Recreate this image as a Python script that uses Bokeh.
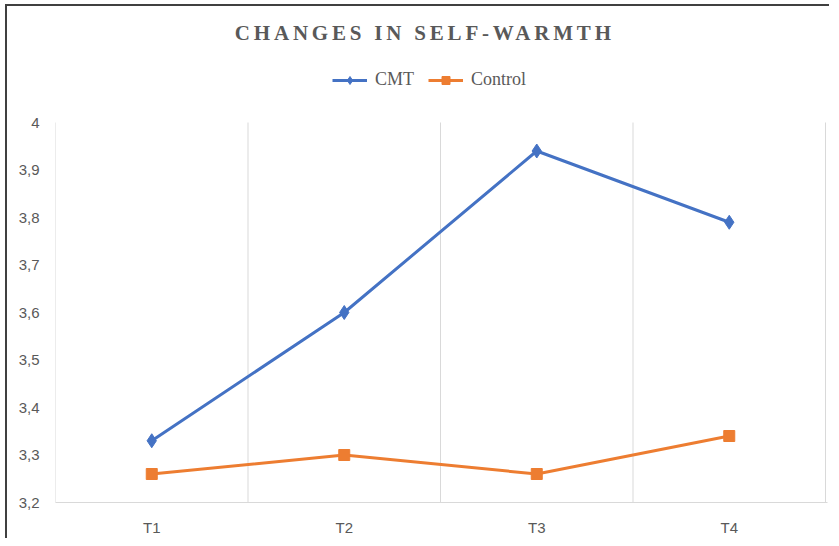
from bokeh.plotting import figure
from bokeh.layouts import column
from bokeh.models import (Range1d, FixedTicker, CustomJSTickFormatter, Legend,
                          LegendItem, Label)
from bokeh.embed import file_html
from bokeh.resources import INLINE

# ---- data ----
categories = ["T1", "T2", "T3", "T4"]
cmt = [3.33, 3.60, 3.94, 3.79]
control = [3.26, 3.30, 3.26, 3.34]
y_ticks = [3.2, 3.3, 3.4, 3.5, 3.6, 3.7, 3.8, 3.9, 4.0]
series_names = ["CMT", "Control"]
title_text = "CHANGES IN SELF-WARMTH"

n = len(categories)
xs = list(range(1, n + 1))
bounds = [i + 0.5 for i in range(0, n + 1)]

GRAY_TXT = "#595959"
GRID = "#d9d9d9"
BLUE = "#4472C4"
ORANGE = "#ED7D31"
FRAME = "2px solid #404040"

# ---- layout constants (canvas pixels) ----
W = 824
TH = 46                 # title strip height
MH = 488                # main chart height
LEFT, RIGHT = 48, 4     # borders around plot area
PLOT_W = 770            # width of the category area
BOTTOM = 36
PLOT_TOP = 72           # y of the value-axis maximum inside main canvas
frame_h = MH - BOTTOM
frame_w = W - LEFT - RIGHT
y_lo, y_hi = y_ticks[0], y_ticks[-1]
y_end = y_lo + (y_hi - y_lo) * frame_h / (frame_h - PLOT_TOP)
x_end = 0.5 + n * frame_w / PLOT_W

# ---- title strip ----
t = figure(width=W, height=TH, output_backend="svg", toolbar_location=None,
           x_range=Range1d(0, 1), y_range=Range1d(0, 1),
           x_axis_type=None, y_axis_type=None,
           min_border_left=0, min_border_right=0, min_border_top=0, min_border_bottom=0)
t.outline_line_color = None
t.grid.visible = False
t.border_fill_color = "white"
t.background_fill_color = "white"
t.styles = {"border-top": FRAME, "border-left": FRAME, "letter-spacing": "3.8px"}
t.add_layout(Label(x=327.5, y=20, x_units="screen", y_units="screen",
                   text=title_text, text_align="center", text_baseline="alphabetic",
                   text_font="Liberation Serif", text_font_style="bold",
                   text_font_size="21px", text_color=GRAY_TXT))

# ---- main chart ----
p = figure(width=W, height=MH, output_backend="svg", toolbar_location=None,
           x_range=Range1d(0.5, x_end), y_range=Range1d(y_lo, y_end),
           min_border_left=LEFT, min_border_right=RIGHT,
           min_border_top=0, min_border_bottom=BOTTOM)
p.outline_line_color = None
p.background_fill_color = "white"
p.border_fill_color = "white"
p.styles = {"border-left": FRAME}
p.xgrid.grid_line_color = None
p.ygrid.grid_line_color = None

# vertical separators between categories, spanning the value range
p.segment(x0=bounds, y0=[y_lo] * len(bounds), x1=bounds, y1=[y_hi] * len(bounds),
          line_color=GRID, line_width=1)

# x axis
p.xaxis.ticker = FixedTicker(ticks=xs)
p.xaxis.major_label_overrides = {x: c for x, c in zip(xs, categories)}
p.xaxis.axis_line_color = GRID
p.xaxis.axis_line_width = 1
p.xaxis.major_tick_line_color = None
p.xaxis.minor_tick_line_color = None
p.xaxis.major_tick_out = 0
p.xaxis.major_tick_in = 0
p.xaxis.minor_tick_out = 0
p.xaxis.major_label_standoff = 16
p.xaxis.major_label_text_font = "Liberation Sans"
p.xaxis.major_label_text_font_size = "15px"
p.xaxis.major_label_text_color = GRAY_TXT

# y axis
p.yaxis.ticker = FixedTicker(ticks=y_ticks)
p.yaxis.formatter = CustomJSTickFormatter(
    code="return (Math.round(tick*10)/10).toString().replace('.', ',');")
p.yaxis.axis_line_color = None
p.yaxis.major_tick_line_color = None
p.yaxis.minor_tick_line_color = None
p.yaxis.major_tick_out = 0
p.yaxis.major_tick_in = 0
p.yaxis.minor_tick_out = 0
p.yaxis.major_label_standoff = 16
p.yaxis.major_label_text_font = "Liberation Sans"
p.yaxis.major_label_text_font_size = "15px"
p.yaxis.major_label_text_color = GRAY_TXT

# series
l1 = p.line(xs, cmt, line_color=BLUE, line_width=3)
s1 = p.scatter(xs, cmt, marker="diamond", size=14, color=BLUE)
l2 = p.line(xs, control, line_color=ORANGE, line_width=3)
s2 = p.scatter(xs, control, marker="square", size=11, color=ORANGE)

legend = Legend(items=[LegendItem(label=series_names[0], renderers=[l1, s1]),
                       LegendItem(label=series_names[1], renderers=[l2, s2])],
                location=(277, frame_h - 40), orientation="horizontal",
                glyph_width=35, glyph_height=20, label_standoff=8, spacing=14,
                padding=0, margin=0, border_line_color=None,
                background_fill_alpha=0,
                label_text_font="Liberation Serif", label_text_font_size="18px",
                label_text_color=GRAY_TXT)
p.add_layout(legend)

layout = column(t, p, spacing=0)
layout.styles = {"padding-left": "5px", "padding-top": "4px"}

open("out.html", "w").write(file_html(layout, INLINE))
